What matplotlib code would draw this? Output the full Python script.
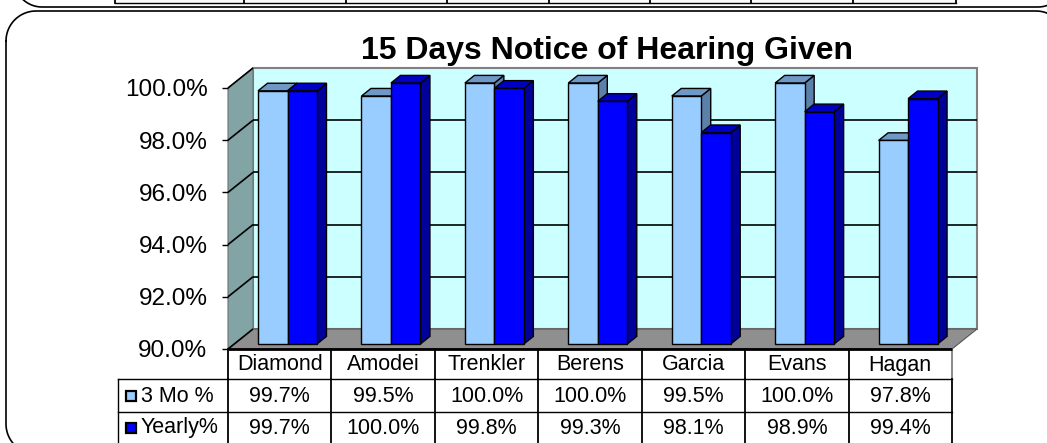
import matplotlib
matplotlib.use("Agg")
import matplotlib.pyplot as plt
import numpy as np
from matplotlib.patches import Polygon, Rectangle
from matplotlib.transforms import IdentityTransform

plt.rcParams["font.family"] = ["Liberation Sans", "DejaVu Sans"]

categories = ["Diamond", "Amodei", "Trenkler", "Berens", "Garcia", "Evans", "Hagan"]
three_mo = [99.7, 99.5, 100.0, 100.0, 99.5, 100.0, 97.8]
yearly = [99.7, 100.0, 99.8, 99.3, 98.1, 98.9, 99.4]
series_names = ["3 Mo %", "Yearly%"]
y_ticks = [90, 92, 94, 96, 98, 100]
title = "15 Days Notice of Hearing Given"

W, H, DPI = 1047, 443, 100

# layout, pixels from top-left of the image
PLOT_L, PLOT_R, PLOT_T, PLOT_B = 228, 952, 88, 349
DEPTH = (25, 20)              # shift of back wall relative to front plane
BAR_D0, BAR_D1 = 0.25, 0.63   # bar front / back as fraction of floor depth
BAR_OFF, BAR_W = 0.23, 0.285  # category units
ROWS = [349, 379, 412, 445]   # table row boundaries
LEG_L = 118

# (front, top, side) face colours per series
FACES = [("#99CCFF", "#7098C6", "#5B80AA"), ("#0000FF", "#0000C4", "#00009A")]


def proj(ax, x, y, d):
    """data point on the front plane pushed back by depth fraction d -> display px"""
    px, py = ax.transData.transform((x, y))
    return (px + d * DEPTH[0], py + d * DEPTH[1])


def poly(ax, pts, fc, ec="black", lw=1.0, z=2):
    ax.add_patch(Polygon(pts, closed=True, transform=IdentityTransform(),
                         facecolor=fc, edgecolor=ec, linewidth=lw,
                         zorder=z, clip_on=False, joinstyle="miter"))


def line(ax, p, q, color="black", lw=1.0, z=1):
    ax.plot([p[0], q[0]], [p[1], q[1]], transform=IdentityTransform(),
            color=color, lw=lw, zorder=z, clip_on=False,
            solid_capstyle="butt")


def draw_bar(ax, x0, v, faces, z):
    front, top, side = faces
    x1 = x0 + BAR_W
    poly(ax, [proj(ax, x1, 90, BAR_D0), proj(ax, x1, 90, BAR_D1),
              proj(ax, x1, v, BAR_D1), proj(ax, x1, v, BAR_D0)], side, z=z)
    poly(ax, [proj(ax, x0, v, BAR_D0), proj(ax, x1, v, BAR_D0),
              proj(ax, x1, v, BAR_D1), proj(ax, x0, v, BAR_D1)], top, z=z)
    poly(ax, [proj(ax, x0, 90, BAR_D0), proj(ax, x1, 90, BAR_D0),
              proj(ax, x1, v, BAR_D0), proj(ax, x0, v, BAR_D0)], front, z=z)


def rounded_frame(a, x0, y0, x1, y1, r, **kw):
    """outline of a rounded rectangle in pixel coords (y grows downwards)"""
    t = np.linspace(0, np.pi / 2, 20)
    corners = [
        (x0 + r - r * np.cos(t), y0 + r - r * np.sin(t)),            # top-left
        (x1 - r + r * np.sin(t), y0 + r - r * np.cos(t)),            # top-right
        (x1 - r + r * np.cos(t), y1 - r + r * np.sin(t)),            # bottom-right
        (x0 + r - r * np.sin(t), y1 - r + r * np.cos(t)),            # bottom-left
    ]
    xs = np.concatenate([c[0] for c in corners] + [corners[0][0][:1]])
    ys = np.concatenate([c[1] for c in corners] + [corners[0][1][:1]])
    a.plot(xs, ys, **kw)


fig = plt.figure(figsize=(W / DPI, H / DPI), dpi=DPI)
fig.patch.set_facecolor("white")

# background layer in pixel coordinates: the slide frames
bg = fig.add_axes([0, 0, 1, 1], zorder=-1)
bg.set_xlim(0, W)
bg.set_ylim(H, 0)
bg.axis("off")
rounded_frame(bg, 14, -80, 1066, 7, 28, color="black", lw=1.2)
rounded_frame(bg, 6, 11, 1066, 454, 30, color="black", lw=1.2)
# bottom of the previous chart's data table peeking in at the top
bg.plot([115, 956], [3, 3], color="black", lw=1.0)
for xv in [115, 244, 346, 447, 549, 650, 751, 853, 956]:
    bg.plot([xv, xv], [0, 3], color="black", lw=1.3)

ax = fig.add_axes([PLOT_L / W, (H - PLOT_B) / H,
                   (PLOT_R - PLOT_L) / W, (PLOT_B - PLOT_T) / H])
n = len(categories)
ax.set_xlim(0, n)
ax.set_ylim(90, 100)
ax.patch.set_visible(False)
for s in ax.spines.values():
    s.set_visible(False)
ax.set_xticks([])
ax.set_yticks(y_ticks)
ax.set_yticklabels([f"{t:.1f}%" for t in y_ticks], fontsize=17.5)
ax.tick_params(axis="y", length=4.3, width=1.0, pad=10.5, color="black")

# walls and floor
poly(ax, [proj(ax, 0, 90, 1), proj(ax, n, 90, 1),
          proj(ax, n, 100, 1), proj(ax, 0, 100, 1)], "#CCFFFF",
     ec="#808080", lw=1.5, z=0.5)
poly(ax, [proj(ax, 0, 100, 0), proj(ax, 0, 100, 1),
          proj(ax, 0, 90, 1), proj(ax, 0, 90, 0)], "#82A4A4",
     ec="#707070", lw=0.8, z=0.5)
poly(ax, [proj(ax, 0, 90, 0), proj(ax, n, 90, 0),
          proj(ax, n, 90, 1), proj(ax, 0, 90, 1)], "#8F8F8F",
     ec="#555555", lw=0.8, z=0.6)
for t in y_ticks:
    if 90 < t < 100:
        line(ax, proj(ax, 0, t, 1), proj(ax, n, t, 1), lw=1.2, z=0.7)
    line(ax, proj(ax, 0, t, 0), proj(ax, 0, t, 1), lw=1.2, z=0.7)

# bars, left to right so the right-hand faces overlap correctly
for i in range(n):
    for k, vals in enumerate([three_mo, yearly]):
        draw_bar(ax, i + BAR_OFF + k * BAR_W, vals[i], FACES[k], z=2 + i + 0.1 * k)

# front edge of the floor
line(ax, proj(ax, 0, 90, 0), proj(ax, n, 90, 0), lw=2.0, z=20)

# data table under the plot
xt = ax.get_xaxis_transform()
span = PLOT_B - PLOT_T
fy = lambda py: (PLOT_B - py) / span
px_per_cat = (PLOT_R - PLOT_L) / n
leg_x = (LEG_L - PLOT_L) / px_per_cat

for i in range(n + 1):
    ax.plot([i, i], [fy(ROWS[0]), fy(ROWS[1])], transform=xt, clip_on=False,
            color="#808080" if i == n else "black", lw=1.3)
    ax.plot([i, i], [fy(ROWS[1]), fy(ROWS[3])], transform=xt, clip_on=False,
            color="black", lw=1.3)
ax.plot([leg_x, leg_x], [fy(ROWS[1]), fy(ROWS[3])], transform=xt,
        clip_on=False, color="black", lw=1.0)
for r in ROWS[1:3]:
    ax.plot([leg_x, n], [fy(r), fy(r)], transform=xt, clip_on=False,
            color="black", lw=1.0)

mid_px = [365, 396, 428]
for i, c in enumerate(categories):
    ax.text(i + 0.5, fy(mid_px[0]), c, transform=xt, ha="center", va="center",
            fontsize=15.5)
    ax.text(i + 0.5, fy(mid_px[1]), f"{three_mo[i]:.1f}%", transform=xt,
            ha="center", va="center", fontsize=15.5)
    ax.text(i + 0.5, fy(mid_px[2]), f"{yearly[i]:.1f}%", transform=xt,
            ha="center", va="center", fontsize=15.5)

key = 10 / px_per_cat
kh = 10 / span
for k, name in enumerate(series_names):
    ky = fy(mid_px[k + 1])
    ax.add_patch(Rectangle((leg_x + 8 / px_per_cat, ky - kh / 2), key, kh,
                           transform=xt, clip_on=False, fc=FACES[k][0],
                           ec="black", lw=1.6, zorder=5))
    ax.text(leg_x + 23 / px_per_cat, ky, name, transform=xt,
            ha="left", va="center", fontsize=15.5)

fig.text(607 / W, 1 - 51 / H, title, ha="center", va="center",
         fontsize=23, fontweight="bold")

fig.savefig("out.png", dpi=DPI, facecolor="white")
